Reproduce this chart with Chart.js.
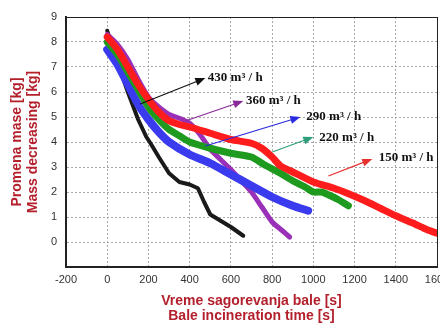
<!DOCTYPE html>
<html>
<head>
<meta charset="utf-8">
<script src="https://cdn.jsdelivr.net/npm/chart.js@4.4.1/dist/chart.umd.min.js"></script>
<style>
  html, body { margin: 0; padding: 0; background: #fff; overflow: hidden; }
  #wrap { width: 462px; height: 324px; }
</style>
</head>
<body>
<div id="wrap"><canvas id="graf"></canvas></div>
<script>
// vreme (s) / masa (kg) po protoku vazduha
let blackX  = [0, 25, 50, 100, 150, 190, 210, 250, 300, 350, 400, 440, 470, 500, 550, 600, 660];
let blackY  = [8.45, 7.8, 7.2, 6.0, 4.9, 4.2, 3.95, 3.4, 2.75, 2.4, 2.3, 2.15, 1.6, 1.1, 0.85, 0.6, 0.25];
let purpleX = [0, 50, 100, 150, 200, 250, 300, 350, 400, 450, 500, 550, 600, 650, 700, 750, 800, 850, 885];
let purpleY = [8.3, 7.9, 7.3, 6.5, 5.8, 5.4, 5.1, 4.95, 4.75, 4.3, 3.7, 3.3, 2.9, 2.45, 2.0, 1.4, 0.8, 0.45, 0.2];
let blueX   = [0, 50, 100, 150, 200, 250, 300, 400, 500, 600, 700, 800, 900, 975];
let blueY   = [7.7, 7.1, 6.3, 5.5, 4.9, 4.4, 4.0, 3.5, 3.15, 2.7, 2.25, 1.8, 1.45, 1.25];
let greenX  = [0, 50, 100, 150, 200, 250, 300, 350, 400, 500, 600, 700, 760, 840, 900, 960, 1000, 1040, 1070, 1120, 1170];
let greenY  = [8.0, 7.5, 6.8, 6.1, 5.4, 4.9, 4.5, 4.25, 4.0, 3.75, 3.55, 3.4, 3.1, 2.75, 2.45, 2.2, 2.0, 2.0, 1.9, 1.7, 1.45];
let redX    = [0, 50, 100, 150, 200, 250, 300, 350, 400, 500, 600, 700, 750, 800, 840, 900, 1000, 1100, 1165, 1250, 1325, 1400, 1485, 1550, 1600];
let redY    = [8.2, 7.7, 7.0, 6.3, 5.7, 5.2, 4.85, 4.7, 4.6, 4.35, 4.1, 3.95, 3.75, 3.4, 3.05, 2.8, 2.4, 2.15, 1.95, 1.65, 1.35, 1.05, 0.75, 0.5, 0.35];

let flowLabels = ["430 m³ / h", "360 m³ / h", "290 m³ / h", "220 m³ / h", "150 m³ / h"];
let labelPos   = [[488, 6.57], [673, 5.66], [966, 5.02], [1029, 4.18], [1317, 3.39]];
let arrowFrom  = [[160, 5.52], [379, 4.84], [476, 3.84], [801, 3.6], [1073, 2.64]];
let arrowTo    = [[476, 6.56], [660, 5.64], [937, 5.0], [1000, 4.2], [1286, 3.32]];
let arrowColor = ["#111111", "#8a2a9a", "#2a2ae0", "#2e9e7a", "#e83030"];

let xTicks = [-200, 0, 200, 400, 600, 800, 1000, 1200, 1400, 1600];
let yTicks = [0, 1, 2, 3, 4, 5, 6, 7, 8, 9];

const titleRed = "#b3202c";

function pts(xs, ys) {
    return xs.map((x, i) => ({ x: x, y: ys[i] }));
}

function band(xs, ys, color, w, t) {
    return {
        data: pts(xs, ys),
        showLine: true,
        borderColor: color,
        borderWidth: w,
        pointRadius: 0,
        tension: t,
        borderCapStyle: "round",
        borderJoinStyle: "round"
    };
}

function speckle(xs, ys, color, w, t) {
    return {
        data: pts(xs, ys),
        showLine: true,
        borderColor: color,
        borderWidth: w,
        borderDash: [2, 3],
        pointRadius: 0,
        tension: t
    };
}

const arrowsAndLabels = {
    id: "arrowsAndLabels",
    afterDatasetsDraw(chart) {
        const ctx = chart.ctx;
        const xs = chart.scales.x, ys = chart.scales.y;
        ctx.save();
        ctx.setLineDash([]);
        for (let i = 0; i < arrowFrom.length; i++) {
            const x1 = xs.getPixelForValue(arrowFrom[i][0]);
            const y1 = ys.getPixelForValue(arrowFrom[i][1]);
            const x2 = xs.getPixelForValue(arrowTo[i][0]);
            const y2 = ys.getPixelForValue(arrowTo[i][1]);
            const ang = Math.atan2(y2 - y1, x2 - x1);
            ctx.strokeStyle = arrowColor[i];
            ctx.fillStyle = arrowColor[i];
            ctx.lineWidth = 1.2;
            ctx.beginPath();
            ctx.moveTo(x1, y1);
            ctx.lineTo(x2 - 6 * Math.cos(ang), y2 - 6 * Math.sin(ang));
            ctx.stroke();
            ctx.beginPath();
            ctx.moveTo(x2, y2);
            ctx.lineTo(x2 - 10 * Math.cos(ang) + 4 * Math.sin(ang), y2 - 10 * Math.sin(ang) - 4 * Math.cos(ang));
            ctx.lineTo(x2 - 10 * Math.cos(ang) - 4 * Math.sin(ang), y2 - 10 * Math.sin(ang) + 4 * Math.cos(ang));
            ctx.closePath();
            ctx.fill();
        }
        ctx.fillStyle = "#111";
        ctx.font = "bold 13px 'Liberation Serif', serif";
        ctx.textAlign = "left";
        ctx.textBaseline = "middle";
        for (let i = 0; i < flowLabels.length; i++) {
            ctx.fillText(flowLabels[i], xs.getPixelForValue(labelPos[i][0]), ys.getPixelForValue(labelPos[i][1]));
        }
        ctx.restore();
    }
};

const tickFont = { family: "Arial, 'Liberation Sans', sans-serif", size: 11 };
const titleFont = { family: "Arial, 'Liberation Sans', sans-serif", size: 14, weight: "bold", lineHeight: 1.08 };

new Chart(document.getElementById("graf"), {
    type: "scatter",
    data: {
        datasets: [
            band(redX, redY, "#ff1c1c", 7, 0.2),
            speckle(redX, redY, "rgba(255,190,190,0.8)", 1.5, 0.2),
            band(greenX, greenY, "#1e9a1e", 7, 0.2),
            speckle(greenX, greenY, "rgba(190,240,190,0.8)", 1.5, 0.2),
            band(blueX, blueY, "#3a3aef", 8, 0.2),
            speckle(blueX, blueY, "rgba(200,200,255,0.8)", 1.5, 0.2),
            band(purpleX, purpleY, "#9a30b8", 5, 0.2),
            speckle(purpleX, purpleY, "rgba(235,200,245,0.9)", 1, 0.2),
            band(blackX, blackY, "#1a1a1a", 4, 0),
            speckle(blackX, blackY, "rgba(150,150,150,0.9)", 1, 0)
        ]
    },
    options: {
        responsive: true,
        maintainAspectRatio: false,
        animation: false,
        layout: { padding: { left: 0, top: 17, right: 25, bottom: 0 } },
        plugins: {
            legend: { display: false },
            tooltip: { enabled: false }
        },
        scales: {
            x: {
                type: "linear",
                min: -200,
                max: 1600,
                afterBuildTicks: (s) => { s.ticks = xTicks.map(v => ({ value: v })); },
                afterFit: (s) => { s.height = 57; },
                ticks: { color: "#333", font: tickFont, padding: 6, maxRotation: 0, autoSkip: false, callback: (v) => String(v) },
                grid: { color: "#a8a8a8", lineWidth: 1, drawTicks: false },
                border: { display: true, color: "#222", width: 2, dash: [2, 2] },
                title: {
                    display: true,
                    text: ["Vreme sagorevanja bale [s]", "Bale incineration time [s]"],
                    color: titleRed,
                    font: titleFont,
                    padding: { top: 0, bottom: 0 }
                }
            },
            x2: {
                type: "linear",
                position: "top",
                min: -200,
                max: 1600,
                afterFit: (s) => { s.height = 0; },
                ticks: { display: false },
                grid: { display: false },
                border: { display: true, color: "#222", width: 1 }
            },
            y: {
                min: -1,
                max: 9,
                afterBuildTicks: (s) => { s.ticks = [-1].concat(yTicks).map(v => ({ value: v })); },
                afterFit: (s) => { s.width = 66; },
                ticks: { color: "#333", font: tickFont, padding: 9, callback: (v) => v < 0 ? "" : String(v) },
                grid: { color: "#a8a8a8", lineWidth: 1, drawTicks: false },
                border: { display: true, color: "#222", width: 2, dash: [2, 2] },
                title: {
                    display: true,
                    text: ["Promena mase [kg]", "Mass decreasing [kg]"],
                    color: titleRed,
                    font: titleFont,
                    padding: { top: 10, bottom: 0 }
                }
            },
            y2: {
                position: "right",
                min: -1,
                max: 9,
                afterFit: (s) => { s.width = 0; },
                ticks: { display: false },
                grid: { display: false },
                border: { display: true, color: "#222", width: 1 }
            }
        }
    },
    plugins: [arrowsAndLabels]
});
</script>
</body>
</html>
